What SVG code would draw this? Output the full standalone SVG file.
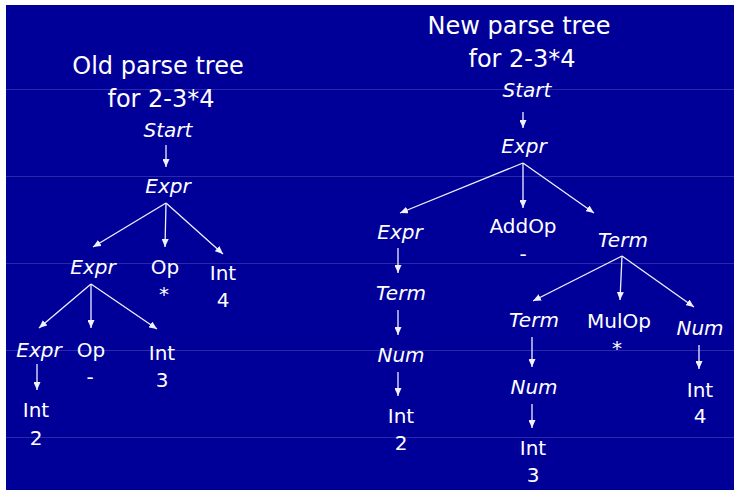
<svg xmlns="http://www.w3.org/2000/svg" width="734" height="493" viewBox="0 0 734 493">
  <style>
    .title { font-family: "DejaVu Sans", "Liberation Sans", sans-serif; font-size: 24px; fill: #ffffff; text-anchor: middle; }
    .nt { font-family: "DejaVu Sans", "Liberation Sans", sans-serif; font-size: 20px; font-style: italic; fill: #ffffff; text-anchor: middle; }
    .t { font-family: "DejaVu Sans", "Liberation Sans", sans-serif; font-size: 20px; fill: #ffffff; text-anchor: middle; }
    .edge { stroke: #f0f0ff; stroke-width: 1.3; fill: none; marker-end: url(#arrow); }
    .rule { stroke: #ffffff; stroke-opacity: 0.16; stroke-width: 1; }
  </style>
  <defs>
    <marker id="arrow" markerUnits="userSpaceOnUse" markerWidth="8" markerHeight="7" refX="8" refY="3.5" orient="auto">
      <path d="M0,0 L8,3.5 L0,7 z" fill="#f0f0ff"/>
    </marker>
  </defs>

  <!-- slide background -->
  <rect x="0" y="0" width="734" height="493" fill="#ffffff"/>
  <rect x="6" y="5" width="728" height="485" fill="#000099"/>
  <g id="rules">
    <line class="rule" x1="6" y1="89.5" x2="734" y2="89.5"/>
    <line class="rule" x1="6" y1="176.5" x2="734" y2="176.5"/>
    <line class="rule" x1="6" y1="263.5" x2="734" y2="263.5"/>
    <line class="rule" x1="6" y1="350.5" x2="734" y2="350.5"/>
    <line class="rule" x1="6" y1="437.5" x2="734" y2="437.5"/>
  </g>

  <!-- titles -->
  <g id="old-title">
    <text class="title" x="158" y="74">Old parse tree</text>
    <text class="title" x="161" y="107">for 2-3*4</text>
  </g>
  <g id="new-title">
    <text class="title" x="519" y="34">New parse tree</text>
    <text class="title" x="522" y="67">for 2-3*4</text>
  </g>

  <!-- connectors -->
  <g id="connectors">
    <!-- old tree -->
    <line class="edge" x1="166" y1="145" x2="166" y2="167"/>
    <line class="edge" x1="166" y1="203" x2="93" y2="247"/>
    <line class="edge" x1="166" y1="203" x2="165" y2="247"/>
    <line class="edge" x1="166" y1="203" x2="223" y2="254"/>
    <line class="edge" x1="91" y1="284" x2="39" y2="328"/>
    <line class="edge" x1="91" y1="284" x2="91" y2="328"/>
    <line class="edge" x1="91" y1="284" x2="157" y2="329"/>
    <line class="edge" x1="37" y1="364" x2="37" y2="390"/>
    <!-- new tree -->
    <line class="edge" x1="523" y1="112" x2="523" y2="128"/>
    <line class="edge" x1="523" y1="163" x2="400" y2="213"/>
    <line class="edge" x1="523" y1="163" x2="523" y2="208"/>
    <line class="edge" x1="523" y1="163" x2="594" y2="213"/>
    <line class="edge" x1="398" y1="248" x2="398" y2="273"/>
    <line class="edge" x1="398" y1="310" x2="398" y2="335"/>
    <line class="edge" x1="398" y1="372" x2="398" y2="396"/>
    <line class="edge" x1="622" y1="256" x2="533" y2="301"/>
    <line class="edge" x1="622" y1="256" x2="620" y2="300"/>
    <line class="edge" x1="622" y1="256" x2="694" y2="307"/>
    <line class="edge" x1="532" y1="337" x2="532" y2="367"/>
    <line class="edge" x1="532" y1="404" x2="532" y2="428"/>
    <line class="edge" x1="699" y1="345" x2="699" y2="369"/>
  </g>

  <!-- old parse tree nodes -->
  <g id="old-start"><text class="nt" x="168" y="137">Start</text></g>
  <g id="old-expr"><text class="nt" x="168" y="193">Expr</text></g>
  <g id="old-expr-left"><text class="nt" x="93" y="274">Expr</text></g>
  <g id="old-op-mul"><text class="t" x="165" y="274">Op<tspan x="164" dy="27">*</tspan></text></g>
  <g id="old-int-4"><text class="t" x="223" y="280">Int<tspan x="223" dy="27">4</tspan></text></g>
  <g id="old-expr-leaf"><text class="nt" x="39" y="357">Expr</text></g>
  <g id="old-op-sub"><text class="t" x="91" y="357">Op<tspan x="90" dy="27">-</tspan></text></g>
  <g id="old-int-3"><text class="t" x="162" y="360">Int<tspan x="162" dy="27">3</tspan></text></g>
  <g id="old-int-2"><text class="t" x="36" y="417">Int<tspan x="36" dy="28">2</tspan></text></g>

  <!-- new parse tree nodes -->
  <g id="new-start"><text class="nt" x="527" y="97">Start</text></g>
  <g id="new-expr"><text class="nt" x="524" y="153">Expr</text></g>
  <g id="new-expr-left"><text class="nt" x="400" y="239">Expr</text></g>
  <g id="new-addop"><text class="t" x="523" y="233">AddOp<tspan x="523" dy="28">-</tspan></text></g>
  <g id="new-term"><text class="nt" x="623" y="247">Term</text></g>
  <g id="new-term-left"><text class="nt" x="401" y="300">Term</text></g>
  <g id="new-num-left"><text class="nt" x="401" y="362">Num</text></g>
  <g id="new-int-2"><text class="t" x="401" y="423">Int<tspan x="401" dy="27">2</tspan></text></g>
  <g id="new-term-mid"><text class="nt" x="534" y="327">Term</text></g>
  <g id="new-mulop"><text class="t" x="619" y="328">MulOp<tspan x="617" dy="27">*</tspan></text></g>
  <g id="new-num-right"><text class="nt" x="700" y="335">Num</text></g>
  <g id="new-num-mid"><text class="nt" x="534" y="394">Num</text></g>
  <g id="new-int-3"><text class="t" x="533" y="455">Int<tspan x="533" dy="27">3</tspan></text></g>
  <g id="new-int-4"><text class="t" x="700" y="397">Int<tspan x="700" dy="26">4</tspan></text></g>
</svg>
